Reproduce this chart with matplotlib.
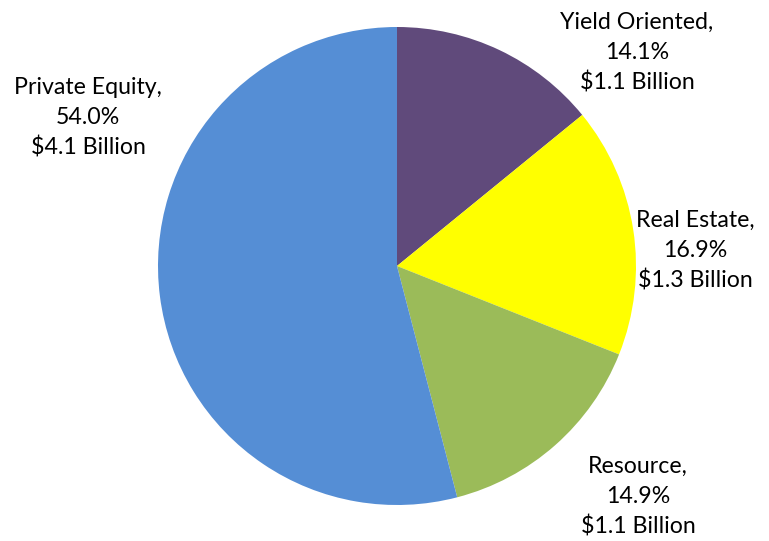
import matplotlib
matplotlib.use("Agg")
import matplotlib.pyplot as plt

categories = ["Yield Oriented", "Real Estate", "Resource", "Private Equity"]
shares = [14.1, 16.9, 14.9, 54.0]
billions = ["$1.1 Billion", "$1.3 Billion", "$1.1 Billion", "$4.1 Billion"]
colors = ["#604A7B", "#FFFF00", "#9BBB59", "#558ED5"]

W, H = 769, 541
cx, cy, R = 397, 266, 239

fig = plt.figure(figsize=(W / 100, H / 100), dpi=100)
ax = fig.add_axes([0, 0, 1, 1])
ax.pie(shares, colors=colors, startangle=90, counterclock=False, radius=1.0,
       wedgeprops=dict(linewidth=0))
ax.set_xlim(-cx / R, (W - cx) / R)
ax.set_ylim(-(H - cy) / R, cy / R)
ax.set_aspect("equal", adjustable="box")
ax.axis("off")

# label anchor positions in axes fraction (centre of text block)
label_pos = [(637 / W, 1 - 53 / H), (695 / W, 1 - 251 / H),
             (638 / W, 1 - 497 / H), (88 / W, 1 - 118 / H)]
for cat, s, b, (x, y) in zip(categories, shares, billions, label_pos):
    ax.text(x, y, f"{cat},\n{s:.1f}%\n{b}", transform=ax.transAxes,
            ha="center", va="center", fontsize=16.7, family="Lato",
            linespacing=1.5, color="black")

fig.savefig("out.png", dpi=100)
